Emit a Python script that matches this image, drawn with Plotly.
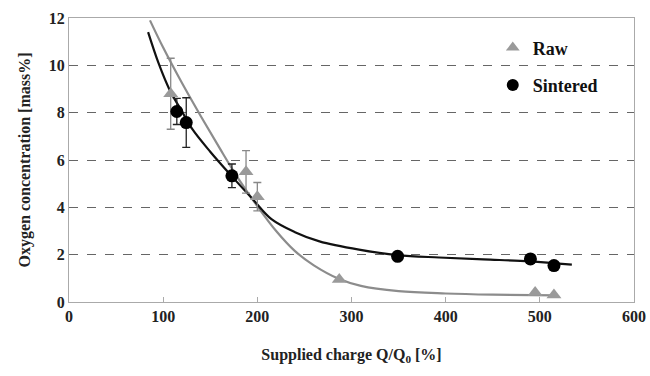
import plotly.graph_objects as go

# Measured data points
raw_x = [108, 188, 200, 287, 495, 515]
raw_y = [8.8, 5.5, 4.45, 0.95, 0.4, 0.3]
raw_err = [1.5, 0.9, 0.6, 0, 0, 0]

sint_x = [114.5, 124.5, 173, 349, 490, 515]
sint_y = [8.05, 7.58, 5.33, 1.93, 1.82, 1.54]
sint_err = [0.55, 1.05, 0.5, 0, 0, 0]

# Trend curves
raw_fit_x = [86, 100, 120, 140, 160, 180, 200, 220, 240, 260, 287, 310, 350, 400, 450, 518]
raw_fit_y = [11.9, 10.75, 9.25, 7.85, 6.5, 5.2, 4.05, 3.0, 2.15, 1.55, 0.97, 0.68, 0.46, 0.36, 0.31, 0.28]

sint_fit_x = [84, 95, 107, 120, 131, 150, 172, 195, 215, 240, 266, 308, 349, 393, 440, 489, 534]
sint_fit_y = [11.4, 10.1, 8.95, 8.05, 7.3, 6.35, 5.35, 4.35, 3.5, 2.95, 2.56, 2.21, 1.98, 1.88, 1.8, 1.72, 1.58]

x_ticks = [0, 100, 200, 300, 400, 500, 600]
y_ticks = [0, 2, 4, 6, 8, 10, 12]

GRAY_M = "#9a9a9a"
GRAY_L = "#8c8c8c"
FONT = "'Liberation Serif', 'Times New Roman', Times, serif"

fig = go.Figure()
fig.add_trace(go.Scatter(x=raw_fit_x, y=raw_fit_y, mode="lines", line=dict(color=GRAY_L, width=2.2, shape="spline", smoothing=1.0), showlegend=False, hoverinfo="skip"))
fig.add_trace(go.Scatter(x=sint_fit_x, y=sint_fit_y, mode="lines", line=dict(color="#111111", width=2.2, shape="spline", smoothing=1.0), showlegend=False, hoverinfo="skip"))
fig.add_trace(go.Scatter(
    x=raw_x, y=raw_y, mode="markers", name="Raw", legendgroup="raw",
    marker=dict(symbol="triangle-up", size=13, color=GRAY_M),
    error_y=dict(type="data", array=raw_err, visible=True, color="#888888", thickness=1.3, width=4),
))
fig.add_trace(go.Scatter(
    x=sint_x, y=sint_y, mode="markers", name="Sintered", legendgroup="sint",
    marker=dict(symbol="circle", size=13, color="#000000"),
    error_y=dict(type="data", array=sint_err, visible=True, color="#222222", thickness=1.3, width=4),
))

fig.update_layout(
    width=650, height=376,
    margin=dict(l=69, r=16, t=18, b=74, autoexpand=False),
    paper_bgcolor="white", plot_bgcolor="white",
    font=dict(family=FONT, color="#222222"),
    showlegend=True,
    legend=dict(x=0.750, y=0.96, xanchor="left", yanchor="top",
                font=dict(family=FONT, size=18, color="#111111", weight="bold"),
                tracegroupgap=11, itemsizing="constant", bgcolor="rgba(0,0,0,0)"),
    xaxis=dict(range=[0, 600], tickvals=x_ticks, ticktext=[str(v) for v in x_ticks],
               automargin=False,
               showgrid=False, zeroline=False, showline=True, linecolor="#aaaaaa", linewidth=1.3,
               mirror=True, ticks="inside", ticklen=5, tickcolor="#aaaaaa",
               tickfont=dict(family=FONT, size=16, color="#222222", weight="bold"),
               title=dict(text="Supplied charge Q/Q<sub>0</sub> [%]", standoff=24,
                          font=dict(family=FONT, size=16, color="#222222", weight="bold"))),
    yaxis=dict(range=[0, 12], tickvals=y_ticks, ticktext=[str(v) for v in y_ticks],
               automargin=False,
               showgrid=True, gridcolor="#666666", griddash="dash", gridwidth=1,
               zeroline=False, showline=True, linecolor="#aaaaaa", linewidth=1.3, mirror=True,
               ticks="", tickfont=dict(family=FONT, size=16, color="#222222", weight="bold"),
               title=dict(text="Oxygen concentration [mass%]", standoff=14,
                          font=dict(family=FONT, size=16, color="#222222", weight="bold"))),
)

fig.write_html("out.html", config={"displayModeBar": False},
               post_script="document.body.style.margin='0';")
